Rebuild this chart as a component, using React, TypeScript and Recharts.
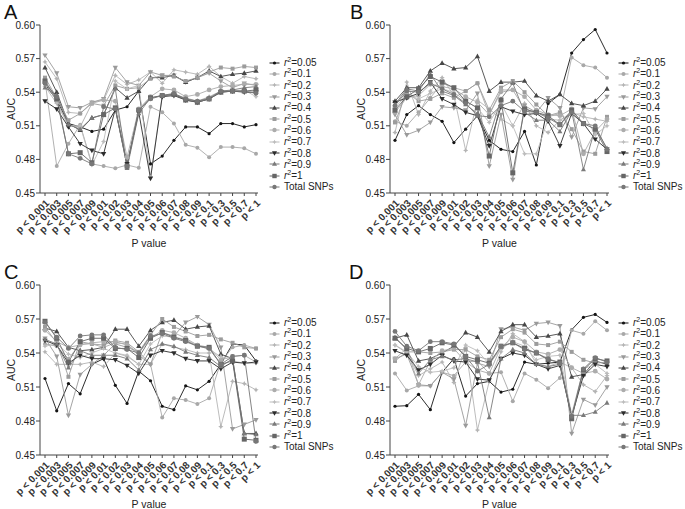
import React from 'react';
import { LineChart, Line, XAxis, YAxis, Legend } from 'recharts';

const categories = ['p < 0.001', 'p < 0.003', 'p < 0.005', 'p < 0.007', 'p < 0.009', 'p < 0.01', 'p < 0.02', 'p < 0.03', 'p < 0.04', 'p < 0.05', 'p < 0.06', 'p < 0.07', 'p < 0.08', 'p < 0.09', 'p < 0.1', 'p < 0.3', 'p < 0.5', 'p < 0.7', 'p < 1'];

const seriesLabels = ['0.05', '0.1', '0.2', '0.3', '0.4', '0.5', '0.6', '0.7', '0.8', '0.9', '1', 'Total SNPs'];

const yTicks = [0.45, 0.48, 0.51, 0.54, 0.57, 0.6];

// Panel A
const aucA: number[][] = [
  [0.547, 0.533, 0.512, 0.509, 0.505, 0.507, 0.524, 0.527, 0.541, 0.476, 0.483, 0.497, 0.509, 0.509, 0.503, 0.512, 0.512, 0.509, 0.511],
  [0.550, 0.474, 0.494, 0.511, 0.476, 0.474, 0.472, 0.475, 0.4725, 0.527, 0.522, 0.512, 0.493, 0.4905, 0.482, 0.491, 0.491, 0.490, 0.485],
  [0.567, 0.552, 0.522, 0.521, 0.531, 0.533, 0.555, 0.547, 0.551, 0.558, 0.548, 0.560, 0.558, 0.556, 0.563, 0.554, 0.548, 0.554, 0.552],
  [0.573, 0.557, 0.527, 0.526, 0.531, 0.534, 0.562, 0.549, 0.546, 0.558, 0.555, 0.555, 0.549, 0.553, 0.557, 0.550, 0.544, 0.548, 0.546],
  [0.562, 0.540, 0.512, 0.506, 0.517, 0.520, 0.544, 0.535, 0.541, 0.553, 0.553, 0.555, 0.549, 0.553, 0.559, 0.554, 0.556, 0.557, 0.559],
  [0.553, 0.535, 0.515, 0.521, 0.530, 0.528, 0.546, 0.543, 0.544, 0.552, 0.555, 0.554, 0.550, 0.553, 0.558, 0.562, 0.561, 0.563, 0.562],
  [0.549, 0.532, 0.510, 0.509, 0.530, 0.533, 0.532, 0.482, 0.525, 0.536, 0.543, 0.542, 0.536, 0.538, 0.542, 0.545, 0.546, 0.547, 0.547],
  [0.545, 0.530, 0.510, 0.510, 0.475, 0.496, 0.550, 0.543, 0.546, 0.464, 0.537, 0.538, 0.535, 0.532, 0.536, 0.541, 0.541, 0.542, 0.536],
  [0.532, 0.525, 0.509, 0.494, 0.488, 0.485, 0.525, 0.476, 0.522, 0.463, 0.536, 0.537, 0.533, 0.531, 0.534, 0.540, 0.541, 0.540, 0.540],
  [0.544, 0.537, 0.511, 0.507, 0.517, 0.520, 0.543, 0.472, 0.521, 0.535, 0.537, 0.538, 0.534, 0.532, 0.535, 0.541, 0.542, 0.544, 0.545],
  [0.550, 0.534, 0.485, 0.486, 0.477, 0.520, 0.526, 0.474, 0.524, 0.535, 0.537, 0.538, 0.533, 0.531, 0.534, 0.540, 0.541, 0.541, 0.542],
  [0.548, 0.536, 0.485, 0.481, 0.476, 0.527, 0.525, 0.474, 0.524, 0.534, 0.537, 0.539, 0.534, 0.532, 0.534, 0.541, 0.541, 0.541, 0.539],
];

// Panel B
const aucB: number[][] = [
  [0.497, 0.520, 0.528, 0.520, 0.514, 0.495, 0.507, 0.519, 0.497, 0.489, 0.487, 0.505, 0.475, 0.530, 0.538, 0.575, 0.587, 0.596, 0.575],
  [0.514, 0.510, 0.522, 0.535, 0.548, 0.544, 0.541, 0.548, 0.520, 0.540, 0.542, 0.525, 0.522, 0.518, 0.521, 0.571, 0.564, 0.562, 0.553],
  [0.504, 0.549, 0.520, 0.541, 0.553, 0.537, 0.488, 0.533, 0.525, 0.516, 0.510, 0.530, 0.510, 0.504, 0.515, 0.522, 0.518, 0.516, 0.514],
  [0.520, 0.502, 0.506, 0.513, 0.527, 0.526, 0.524, 0.539, 0.474, 0.520, 0.462, 0.528, 0.522, 0.535, 0.526, 0.500, 0.526, 0.525, 0.536],
  [0.532, 0.544, 0.544, 0.559, 0.566, 0.561, 0.562, 0.572, 0.541, 0.549, 0.549, 0.550, 0.537, 0.532, 0.538, 0.530, 0.528, 0.532, 0.543],
  [0.513, 0.540, 0.532, 0.534, 0.539, 0.535, 0.541, 0.548, 0.524, 0.544, 0.550, 0.540, 0.529, 0.519, 0.522, 0.507, 0.487, 0.485, 0.518],
  [0.522, 0.535, 0.537, 0.547, 0.545, 0.543, 0.536, 0.531, 0.520, 0.542, 0.542, 0.536, 0.524, 0.520, 0.519, 0.525, 0.485, 0.505, 0.516],
  [0.526, 0.538, 0.534, 0.539, 0.543, 0.540, 0.532, 0.526, 0.513, 0.530, 0.510, 0.485, 0.485, 0.516, 0.515, 0.520, 0.521, 0.502, 0.510],
  [0.531, 0.535, 0.539, 0.549, 0.534, 0.529, 0.522, 0.519, 0.492, 0.527, 0.523, 0.520, 0.521, 0.514, 0.492, 0.521, 0.512, 0.498, 0.489],
  [0.529, 0.543, 0.541, 0.556, 0.541, 0.537, 0.529, 0.521, 0.500, 0.534, 0.548, 0.522, 0.515, 0.515, 0.505, 0.523, 0.471, 0.508, 0.490],
  [0.524, 0.536, 0.543, 0.554, 0.549, 0.544, 0.532, 0.526, 0.483, 0.533, 0.468, 0.525, 0.522, 0.519, 0.511, 0.524, 0.512, 0.507, 0.487],
  [0.528, 0.541, 0.540, 0.548, 0.543, 0.538, 0.530, 0.519, 0.518, 0.528, 0.532, 0.523, 0.522, 0.517, 0.511, 0.522, 0.512, 0.510, 0.489],
];

// Panel C
const aucC: number[][] = [
  [0.5175, 0.489, 0.513, 0.504, 0.530, 0.535, 0.5115, 0.4955, 0.524, 0.5155, 0.493, 0.490, 0.511, 0.5075, 0.515, 0.530, 0.548, 0.547, 0.533],
  [0.548, 0.546, 0.535, 0.548, 0.548, 0.545, 0.549, 0.548, 0.538, 0.530, 0.483, 0.500, 0.4985, 0.495, 0.500, 0.532, 0.545, 0.547, 0.544],
  [0.541, 0.530, 0.530, 0.530, 0.532, 0.528, 0.540, 0.537, 0.530, 0.530, 0.548, 0.545, 0.543, 0.540, 0.540, 0.475, 0.515, 0.513, 0.5075],
  [0.553, 0.537, 0.485, 0.521, 0.530, 0.538, 0.548, 0.545, 0.541, 0.530, 0.558, 0.555, 0.567, 0.572, 0.565, 0.545, 0.473, 0.477, 0.481],
  [0.562, 0.559, 0.545, 0.542, 0.543, 0.545, 0.561, 0.561, 0.546, 0.560, 0.567, 0.569, 0.561, 0.563, 0.564, 0.539, 0.535, 0.469, 0.469],
  [0.563, 0.549, 0.519, 0.550, 0.548, 0.547, 0.551, 0.549, 0.541, 0.556, 0.570, 0.563, 0.559, 0.555, 0.556, 0.552, 0.549, 0.545, 0.544],
  [0.560, 0.550, 0.545, 0.547, 0.549, 0.550, 0.550, 0.547, 0.540, 0.553, 0.560, 0.558, 0.553, 0.547, 0.545, 0.534, 0.537, 0.538, 0.532],
  [0.546, 0.548, 0.539, 0.536, 0.540, 0.544, 0.540, 0.538, 0.530, 0.548, 0.555, 0.554, 0.552, 0.547, 0.543, 0.537, 0.533, 0.531, 0.531],
  [0.551, 0.547, 0.531, 0.538, 0.535, 0.535, 0.534, 0.529, 0.522, 0.538, 0.542, 0.540, 0.535, 0.533, 0.533, 0.526, 0.532, 0.531, 0.532],
  [0.552, 0.548, 0.527, 0.542, 0.538, 0.538, 0.538, 0.535, 0.525, 0.543, 0.548, 0.546, 0.541, 0.538, 0.536, 0.528, 0.535, 0.469, 0.468],
  [0.568, 0.553, 0.532, 0.550, 0.553, 0.553, 0.544, 0.544, 0.536, 0.553, 0.558, 0.554, 0.551, 0.546, 0.545, 0.530, 0.533, 0.464, 0.463],
  [0.567, 0.554, 0.544, 0.555, 0.556, 0.556, 0.545, 0.543, 0.540, 0.555, 0.557, 0.553, 0.550, 0.546, 0.544, 0.530, 0.537, 0.538, 0.462],
];

// Panel D
const aucD: number[][] = [
  [0.493, 0.4935, 0.5035, 0.490, 0.523, 0.535, 0.502, 0.513, 0.515, 0.5055, 0.508, 0.532, 0.530, 0.531, 0.532, 0.5605, 0.5715, 0.574, 0.567],
  [0.522, 0.507, 0.511, 0.511, 0.523, 0.520, 0.532, 0.525, 0.522, 0.523, 0.4975, 0.522, 0.5165, 0.509, 0.518, 0.560, 0.557, 0.568, 0.560],
  [0.547, 0.540, 0.520, 0.526, 0.532, 0.514, 0.545, 0.472, 0.515, 0.541, 0.557, 0.550, 0.530, 0.528, 0.532, 0.527, 0.512, 0.506, 0.520],
  [0.535, 0.539, 0.512, 0.511, 0.523, 0.517, 0.476, 0.531, 0.528, 0.561, 0.563, 0.560, 0.566, 0.567, 0.564, 0.469, 0.499, 0.494, 0.510],
  [0.553, 0.556, 0.533, 0.535, 0.540, 0.546, 0.558, 0.554, 0.541, 0.559, 0.565, 0.565, 0.554, 0.555, 0.557, 0.519, 0.521, 0.533, 0.530],
  [0.533, 0.541, 0.541, 0.540, 0.541, 0.543, 0.543, 0.537, 0.534, 0.554, 0.561, 0.558, 0.548, 0.547, 0.550, 0.541, 0.534, 0.531, 0.532],
  [0.535, 0.544, 0.512, 0.533, 0.542, 0.544, 0.532, 0.533, 0.522, 0.545, 0.554, 0.550, 0.541, 0.539, 0.543, 0.527, 0.522, 0.524, 0.517],
  [0.547, 0.541, 0.528, 0.523, 0.524, 0.527, 0.547, 0.542, 0.530, 0.544, 0.550, 0.546, 0.534, 0.537, 0.538, 0.486, 0.526, 0.530, 0.522],
  [0.542, 0.538, 0.525, 0.530, 0.538, 0.533, 0.532, 0.517, 0.516, 0.535, 0.540, 0.538, 0.530, 0.526, 0.529, 0.484, 0.520, 0.530, 0.528],
  [0.554, 0.543, 0.522, 0.534, 0.537, 0.534, 0.535, 0.532, 0.483, 0.535, 0.543, 0.540, 0.530, 0.528, 0.530, 0.485, 0.485, 0.488, 0.496],
  [0.553, 0.544, 0.541, 0.544, 0.549, 0.547, 0.537, 0.534, 0.531, 0.546, 0.549, 0.544, 0.540, 0.534, 0.532, 0.482, 0.525, 0.535, 0.533],
  [0.559, 0.546, 0.542, 0.550, 0.550, 0.548, 0.537, 0.524, 0.530, 0.546, 0.549, 0.543, 0.540, 0.535, 0.531, 0.484, 0.526, 0.536, 0.532],
];

type Shape = 'circle' | 'square' | 'triUp' | 'triDown' | 'star';
const styles: { color: string; shape: Shape; size: number }[] = [
  { color: '#141414', shape: 'circle', size: 1.6 },
  { color: '#a8a8a8', shape: 'circle', size: 2.0 },
  { color: '#b4b4b4', shape: 'star', size: 2.6 },
  { color: '#9a9a9a', shape: 'triDown', size: 2.3 },
  { color: '#474747', shape: 'triUp', size: 2.3 },
  { color: '#9c9c9c', shape: 'square', size: 2.0 },
  { color: '#acacac', shape: 'circle', size: 2.4 },
  { color: '#bcbcbc', shape: 'star', size: 2.6 },
  { color: '#2c2c2c', shape: 'triDown', size: 2.3 },
  { color: '#7a7a7a', shape: 'triUp', size: 2.2 },
  { color: '#666666', shape: 'square', size: 2.5 },
  { color: '#777777', shape: 'circle', size: 2.4 },
];

const FONT = '"Liberation Sans", Arial, Helvetica, sans-serif';

function marker(shape: Shape, color: string, s: number, cx: number, cy: number, key?: any) {
  if (cx == null || cy == null || isNaN(cx) || isNaN(cy)) return <g key={key} />;
  switch (shape) {
    case 'circle':
      return <circle key={key} cx={cx} cy={cy} r={s} fill={color} />;
    case 'square':
      return <rect key={key} x={cx - s} y={cy - s} width={2 * s} height={2 * s} fill={color} />;
    case 'triUp':
      return <polygon key={key} points={`${cx},${cy - s * 1.25} ${cx - s * 1.15},${cy + s * 0.8} ${cx + s * 1.15},${cy + s * 0.8}`} fill={color} />;
    case 'triDown':
      return <polygon key={key} points={`${cx},${cy + s * 1.25} ${cx - s * 1.15},${cy - s * 0.8} ${cx + s * 1.15},${cy - s * 0.8}`} fill={color} />;
    case 'star': {
      const i = s * 0.35;
      return (
        <polygon
          key={key}
          points={`${cx},${cy - s} ${cx + i},${cy - i} ${cx + s},${cy} ${cx + i},${cy + i} ${cx},${cy + s} ${cx - i},${cy + i} ${cx - s},${cy} ${cx - i},${cy - i}`}
          fill={color}
        />
      );
    }
  }
  return <g key={key} />;
}

const makeDot = (idx: number) => (props: any) => {
  const st = styles[idx];
  return marker(st.shape, st.color, st.size, props.cx, props.cy, props.key ?? `d${idx}-${props.index}`);
};

const XTick = (props: any) => {
  const { x, y, payload } = props;
  return (
    <text
      transform={`translate(${x + 3},${y + 4}) rotate(-45)`}
      textAnchor="end"
      dominantBaseline="middle"
      fontSize={10}
      fontWeight="bold"
      fontFamily={FONT}
      fill="#333"
    >
      {payload.value}
    </text>
  );
};

const LegendBox = () => (
  <div style={{ fontFamily: FONT, fontSize: 10, color: '#222' }}>
    {seriesLabels.map((lab, i) => {
      const st = styles[i];
      return (
        <div key={lab} style={{ height: 11.3, display: 'flex', alignItems: 'center', whiteSpace: 'nowrap' }}>
          <svg width={11} height={10} style={{ marginRight: 4, flex: 'none' }}>
            <line x1={0.5} y1={5} x2={10.5} y2={5} stroke={st.color} strokeWidth={1} />
            {marker(st.shape, st.color, Math.min(st.size, 2.2), 5.5, 5)}
          </svg>
          {lab === 'Total SNPs' ? (
            <span>Total SNPs</span>
          ) : (
            <span>
              <i>r</i>
              <sup style={{ fontSize: 7, lineHeight: 0, verticalAlign: 'super' }}>2</sup>={lab}
            </span>
          )}
        </div>
      );
    })}
  </div>
);

function Panel(props: { auc: number[][]; left: number; top: number; width: number; height: number; right: number; xAxisHeight: number; labelOffset: number; letter: string; letterLeft: number; legendGap: number }) {
  const { auc, left, top, width, height, right, xAxisHeight, labelOffset, letter, letterLeft, legendGap } = props;
  const rows = categories.map((c, i) => {
    const r: any = { p: c };
    auc.forEach((s, k) => {
      r[`s${k}`] = s[i];
    });
    return r;
  });
  const plotRight = width - right;
  return (
    <div style={{ position: 'absolute', left, top, width, height }}>
      <div style={{ position: 'absolute', left: letterLeft, top: 2, fontFamily: FONT, fontSize: 20, lineHeight: '20px', color: '#111' }}>{letter}</div>
      <LineChart width={width} height={height} data={rows} margin={{ top: 25, right, bottom: 0, left: 0 }}>
        <XAxis
          dataKey="p"
          interval={0}
          tick={<XTick />}
          tickSize={3}
          height={xAxisHeight}
          padding={{ left: 5, right: 2 }}
          stroke="#444"
          label={{ value: 'P value', position: 'insideBottom', offset: labelOffset, fontSize: 10.5, fontFamily: FONT, fill: '#222' }}
        />
        <YAxis
          domain={[0.45, 0.6]}
          ticks={yTicks}
          tickFormatter={(v: number) => v.toFixed(2)}
          width={40}
          tickSize={4}
          tickMargin={1}
          stroke="#444"
          tick={{ fontSize: 10, fontFamily: FONT, fill: '#222' }}
          allowDataOverflow
          label={{ value: 'AUC', angle: -90, position: 'center', dx: -9, fontSize: 10.5, fontFamily: FONT, fill: '#222' }}
        />
        {auc.map((_, k) => (
          <Line
            key={k}
            type="linear"
            dataKey={`s${k}`}
            stroke={styles[k].color}
            strokeWidth={0.9}
            dot={makeDot(k)}
            activeDot={false}
            isAnimationActive={false}
          />
        ))}
        <Legend
          layout="horizontal"
          verticalAlign="middle"
          align="center"
          content={() => <LegendBox />}
          wrapperStyle={{ left: plotRight + legendGap, top: 57, width: 80, height: 140 }}
        />
      </LineChart>
    </div>
  );
}

export default function App() {
  return (
    <div style={{ position: 'absolute', left: 0, top: 0, width: 685, height: 509, overflow: 'hidden', background: '#fff' }}>
      <Panel auc={aucA} left={0} top={0} width={345} height={255} right={87} xAxisHeight={62} labelOffset={8} letter="A" letterLeft={4} legendGap={11} />
      <Panel auc={aucB} left={350} top={0} width={335} height={255} right={76} xAxisHeight={62} labelOffset={8} letter="B" letterLeft={0} legendGap={9} />
      <Panel auc={aucC} left={0} top={260} width={345} height={249} right={87} xAxisHeight={54} labelOffset={1} letter="C" letterLeft={4} legendGap={11} />
      <Panel auc={aucD} left={350} top={260} width={335} height={249} right={76} xAxisHeight={54} labelOffset={1} letter="D" letterLeft={-1} legendGap={9} />
    </div>
  );
}
